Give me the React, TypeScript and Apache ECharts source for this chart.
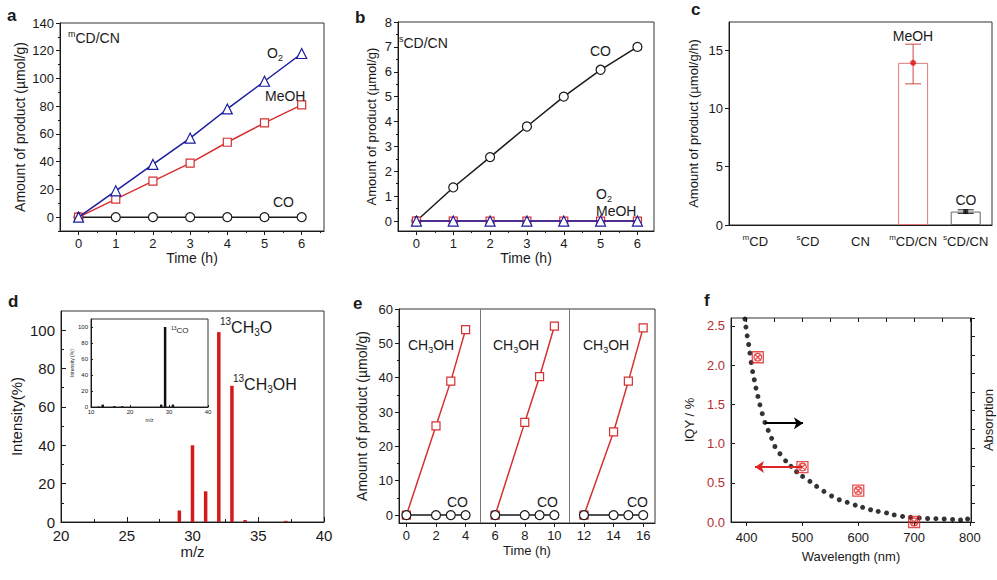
import React, { useEffect, useRef } from "react";
import * as echarts from "echarts";

const FONT = '"Liberation Sans", Arial, Helvetica, sans-serif';
const INK = "#1a1a1a";
const BLUE = "#1c1ca0";
const RED = "#d63030";

// ---------- panel a ----------
const timeH = [0, 1, 2, 3, 4, 5, 6];
const aO2 = [0, 19, 38, 57, 78, 98, 118];
const aMeOH = [0, 13, 26, 39, 54, 68, 81];
const aCO = [0, 0, 0, 0, 0, 0, 0];
const aYTicks = [0, 20, 40, 60, 80, 100, 120, 140];
const aYMinor = [-10, 10, 30, 50, 70, 90, 110, 130];
const abXMinor = [0.5, 1.5, 2.5, 3.5, 4.5, 5.5, 6.5];

// ---------- panel b ----------
const bCO = [0, 1.35, 2.57, 3.8, 5.0, 6.08, 7.0];
const bO2 = [0, 0, 0, 0, 0, 0, 0];
const bMeOH = [0, 0, 0, 0, 0, 0, 0];
const bYTicks = [0, 1, 2, 3, 4, 5, 6, 7, 8];
const bYMinor = [0.5, 1.5, 2.5, 3.5, 4.5, 5.5, 6.5, 7.5];

// ---------- panel c ----------
const cSup = ["m", "s", "", "m", "s"];
const cBase = ["CD", "CD", "CN", "CD/CN", "CD/CN"];
const cMeOH = [null, null, null, 13.9, null];
const cCO = [null, null, null, null, 1.15];
const cErrLow = [null, null, null, 12.1, 1.0];
const cErrHigh = [null, null, null, 15.5, 1.3];
const cYTicks = [0, 5, 10, 15];

// ---------- panel d ----------
const dMz = [29, 30, 31, 32, 33, 34, 37.1];
const dIntensity = [6, 40, 16, 99, 71, 1, 0.6];
const dXTicks = [20, 25, 30, 35, 40];
const dXMinor = [22.5, 27.5, 32.5, 37.5];
const dYTicks = [0, 20, 40, 60, 80, 100];
const dYMinor = [10, 30, 50, 70, 90];
const insetMz = [12, 13, 16, 18, 28, 29, 31];
const insetIntensity = [0.5, 3, 1, 1, 3, 100, 3];
const insetXTicks = [10, 20, 30, 40];

// ---------- panel e ----------
const eTime = [[0, 2, 3, 4], [6, 8, 9, 10], [12, 14, 15, 16]];
const eMeOH = [[0, 26, 39, 54], [0, 27, 40.3, 55], [0, 24.2, 39, 54.5]];
const eCO = [[0, 0, 0, 0], [0, 0, 0, 0], [0, 0, 0, 0]];
const eCycleBreaks = [5, 11];
const eXTicks = [0, 2, 4, 6, 8, 10, 12, 14, 16];
const eYTicks = [0, 10, 20, 30, 40, 50, 60];
const eYMinor = [5, 15, 25, 35, 45, 55];

// ---------- panel f ----------
const fWavelength = [397, 398.7, 401, 403.6, 405.9, 408.2, 410.7, 413.7, 416.7, 420.2, 423.8, 428, 432.8, 438.7, 444.8, 450.7, 459.7, 469.8, 479.4, 489.5, 500.3, 513.4, 525.4, 538.5, 552.2, 566, 580.2, 594.5, 607.8, 622.1, 635.7, 650.7, 664.4, 679.4, 693.7, 709.2, 724.2, 739.1, 754, 769, 783.3, 795.9];
const fAbsorption = [1.094, 1.051, 1.004, 0.957, 0.911, 0.86, 0.811, 0.767, 0.722, 0.677, 0.632, 0.584, 0.537, 0.494, 0.451, 0.407, 0.368, 0.33, 0.3, 0.271, 0.246, 0.219, 0.192, 0.165, 0.14, 0.12, 0.106, 0.091, 0.079, 0.066, 0.057, 0.049, 0.038, 0.03, 0.025, 0.022, 0.019, 0.018, 0.016, 0.014, 0.011, 0.016];
const fIqyWavelength = [420, 500, 600, 700];
const fIqy = [2.1, 0.7, 0.4, 0.0];
const fXTicks = [400, 500, 600, 700, 800];
const fXTopTicks = [400, 450, 500, 550, 600, 650, 700, 750, 800];
const fYTicks = [0, 0.5, 1.0, 1.5, 2.0, 2.5];
const fAbsTicks = [0, 0.1, 0.2, 0.3, 0.4, 0.5, 0.6, 0.7, 0.8, 0.9, 1.0, 1.1];
const fArrowIqy = [[500, 0.7], [415, 0.7]];
const fArrowAbs = [[433, 1.26], [501, 1.26]];

const zip = (xs: number[], ys: (number | null)[]) => xs.map((x, i) => [x, ys[i]]);

function richStyles(size: number, forLabel = false) {
  const c = forLabel ? { color: INK } : { fill: INK };
  return {
    n: { fontSize: size, fontFamily: FONT, lineHeight: Math.round(size * 1.3), verticalAlign: "middle", ...c },
    sup: { fontSize: Math.round(size * 0.62), fontFamily: FONT, lineHeight: Math.round(size * 0.62), verticalAlign: "top", ...c },
    sub: { fontSize: Math.round(size * 0.62), fontFamily: FONT, lineHeight: Math.round(size * 0.62), verticalAlign: "bottom", ...c },
  };
}

function txt(x: number, y: number, text: string, size: number, align = "left", extra: any = {}) {
  return {
    type: "text",
    x,
    y,
    silent: true,
    z: 100,
    style: {
      text,
      align,
      verticalAlign: "middle",
      fontFamily: FONT,
      fontSize: size,
      fill: INK,
      rich: richStyles(size),
      ...extra,
    },
  };
}

function vAxis(o: any) {
  const {
    grid, min, max, labels, ticks, position, inside = false, tickLen = 4, fontSize = 13,
    name, nameGap = 20, nameSize = 14, labelColor = INK, showLabel = true, showLine = true,
    margin = 6, formatter, isY = false, nameColor = INK,
  } = o;
  return {
    type: "value",
    gridIndex: grid,
    min,
    max,
    position,
    splitLine: { show: false },
    axisLine: { show: showLine, onZero: false, lineStyle: { color: INK, width: 1 } },
    axisTick: { show: true, inside, length: tickLen, customValues: ticks, lineStyle: { color: INK, width: 1 } },
    axisLabel: {
      show: showLabel,
      customValues: labels,
      fontSize,
      fontFamily: FONT,
      color: labelColor,
      margin,
      formatter,
      showMinLabel: true,
      showMaxLabel: true,
    },
    name,
    nameLocation: "middle",
    nameGap,
    nameRotate: isY ? 90 : 0,
    nameTextStyle: { fontSize: nameSize, fontFamily: FONT, color: nameColor },
  };
}

function buildOption() {
  const grids = [
    { left: 60, top: 23, width: 264, height: 208 },
    { left: 398, top: 22, width: 256, height: 209 },
    { left: 729, top: 22, width: 263, height: 203 },
    { left: 61, top: 311, width: 263, height: 211 },
    { left: 91, top: 319, width: 117, height: 88 },
    { left: 399, top: 309, width: 256, height: 214 },
    { left: 731, top: 318, width: 240, height: 204 },
  ].map((g) => ({ ...g, show: true, borderColor: "#333", borderWidth: 1, backgroundColor: "transparent" }));

  const xAxes: any[] = [];
  const yAxes: any[] = [];
  const addX = (a: any) => (xAxes.push(a), xAxes.length - 1);
  const addY = (a: any) => (yAxes.push(a), yAxes.length - 1);
  const series: any[] = [];

  // ---- a ----
  const xa = addX(vAxis({ grid: 0, min: -0.5, max: 6.6, labels: timeH, ticks: timeH, position: "bottom", name: "Time (h)", nameGap: 20 }));
  addX(vAxis({ grid: 0, min: -0.5, max: 6.6, ticks: abXMinor, position: "bottom", tickLen: 2, showLabel: false, showLine: false }));
  const ya = addY(vAxis({ grid: 0, min: -10, max: 140, labels: aYTicks, ticks: aYTicks, position: "left", name: "Amount of product (µmol/g)", nameGap: 33, isY: true }));
  addY(vAxis({ grid: 0, min: -10, max: 140, ticks: aYMinor, position: "left", tickLen: 2, showLabel: false, showLine: false }));
  const line = (xi: number, yi: number, data: any[], color: string, symbol: string, size: number, z = 2) => ({
    type: "line",
    xAxisIndex: xi,
    yAxisIndex: yi,
    data,
    symbol,
    symbolSize: size,
    showAllSymbol: true,
    z,
    lineStyle: { color, width: 1.5 },
    itemStyle: { color: "#fff", borderColor: color, borderWidth: 1.2 },
  });
  series.push(line(xa, ya, zip(timeH, aCO), INK, "circle", 9, 2));
  series.push(line(xa, ya, zip(timeH, aMeOH), RED, "rect", 8, 3));
  series.push(line(xa, ya, zip(timeH, aO2), BLUE, "triangle", 10, 4));

  // ---- b ----
  const xb = addX(vAxis({ grid: 1, min: -0.5, max: 6.45, labels: timeH, ticks: timeH, position: "bottom", name: "Time (h)", nameGap: 20 }));
  addX(vAxis({ grid: 1, min: -0.5, max: 6.45, ticks: abXMinor.slice(0, 6), position: "bottom", tickLen: 2, showLabel: false, showLine: false }));
  const yb = addY(vAxis({ grid: 1, min: -0.4, max: 8, labels: bYTicks, ticks: bYTicks, position: "left", name: "Amount of product (µmol/g)", nameGap: 20, nameSize: 13, isY: true }));
  addY(vAxis({ grid: 1, min: -0.4, max: 8, ticks: bYMinor, position: "left", tickLen: 2, showLabel: false, showLine: false }));
  series.push(line(xb, yb, zip(timeH, bCO), INK, "circle", 9, 2));
  series.push(line(xb, yb, zip(timeH, bMeOH), RED, "rect", 8, 3));
  series.push(line(xb, yb, zip(timeH, bO2), BLUE, "triangle", 10, 4));

  // ---- c ----
  const cCats = cBase.map((b, i) => cSup[i] + b);
  const xc = addX({
    type: "category",
    gridIndex: 2,
    data: cCats,
    position: "bottom",
    axisLine: { onZero: false, lineStyle: { color: INK } },
    axisTick: { alignWithLabel: true, length: 4, lineStyle: { color: INK } },
    axisLabel: {
      interval: 0,
      margin: 8,
      formatter: (_v: string, i: number) => (cSup[i] ? `{sup|${cSup[i]}}{n|${cBase[i]}}` : `{n|${cBase[i]}}`),
      rich: richStyles(13, true),
    },
    splitLine: { show: false },
  });
  const yc = addY(vAxis({ grid: 2, min: 0, max: 17.4, labels: cYTicks, ticks: cYTicks, position: "left", name: "Amount of product (µmol/g/h)", nameGap: 29, nameSize: 13, isY: true }));
  series.push({
    type: "bar", xAxisIndex: xc, yAxisIndex: yc, data: cMeOH, barWidth: 30, barGap: "-100%",
    itemStyle: { color: "#fff", borderColor: "#e07a7a", borderWidth: 1 },
  });
  series.push({
    type: "bar", xAxisIndex: xc, yAxisIndex: yc, data: cCO, barWidth: 30, barGap: "-100%",
    itemStyle: { color: "#fff", borderColor: "#666", borderWidth: 1 },
  });
  const errData = cErrLow.map((lo, i) => (lo == null ? null : [i, lo, cErrHigh[i]])).filter((d) => d) as number[][];
  series.push({
    type: "custom",
    xAxisIndex: xc,
    yAxisIndex: yc,
    data: errData,
    z: 5,
    renderItem: (_p: any, api: any) => {
      const x = api.value(0);
      const lo = api.coord([x, api.value(1)]);
      const hi = api.coord([x, api.value(2)]);
      const color = x === 3 ? "#d04545" : INK;
      const w = 8;
      const st = { stroke: color, lineWidth: 1 };
      return {
        type: "group",
        children: [
          { type: "line", shape: { x1: lo[0], y1: lo[1], x2: hi[0], y2: hi[1] }, style: st },
          { type: "line", shape: { x1: lo[0] - w, y1: lo[1], x2: lo[0] + w, y2: lo[1] }, style: st },
          { type: "line", shape: { x1: hi[0] - w, y1: hi[1], x2: hi[0] + w, y2: hi[1] }, style: st },
        ],
      };
    },
  });
  series.push({ type: "scatter", xAxisIndex: xc, yAxisIndex: yc, data: cMeOH, symbol: "circle", symbolSize: 6, z: 6, itemStyle: { color: "#e01010" } });
  series.push({ type: "scatter", xAxisIndex: xc, yAxisIndex: yc, data: cCO, symbol: "rect", symbolSize: 5, z: 6, itemStyle: { color: "#111" } });

  // ---- d ----
  const xd = addX(vAxis({ grid: 3, min: 20, max: 40, labels: dXTicks, ticks: dXTicks, position: "bottom", inside: true, tickLen: 5, fontSize: 15, name: "m/z", nameGap: 20, nameSize: 15 }));
  addX(vAxis({ grid: 3, min: 20, max: 40, ticks: dXMinor, position: "bottom", inside: true, tickLen: 3, showLabel: false, showLine: false }));
  const yd = addY(vAxis({ grid: 3, min: 0, max: 110, labels: dYTicks, ticks: dYTicks, position: "left", inside: true, tickLen: 5, fontSize: 15, name: "Intensity(%)", nameGap: 37, nameSize: 15, isY: true }));
  addY(vAxis({ grid: 3, min: 0, max: 110, ticks: dYMinor, position: "left", inside: true, tickLen: 3, showLabel: false, showLine: false }));
  series.push({ type: "bar", xAxisIndex: xd, yAxisIndex: yd, data: zip(dMz, dIntensity), barWidth: 3.5, itemStyle: { color: "#d41a1a" } });

  // inset
  const xi = addX(vAxis({ grid: 4, min: 10, max: 40, labels: insetXTicks, ticks: insetXTicks, position: "bottom", inside: true, tickLen: 2, fontSize: 6, margin: 2, name: "m/z", nameGap: 10, nameSize: 5 }));
  const yi = addY(vAxis({ grid: 4, min: 0, max: 110, labels: dYTicks, ticks: dYTicks, position: "left", inside: true, tickLen: 2, fontSize: 6, margin: 3, name: "Intensity (%)", nameGap: 13, nameSize: 5, isY: true }));
  series.push({ type: "bar", xAxisIndex: xi, yAxisIndex: yi, data: zip(insetMz, insetIntensity), barWidth: 2.5, itemStyle: { color: "#111" } });

  // ---- e ----
  const xe = addX(vAxis({ grid: 5, min: -0.5, max: 16.8, labels: eXTicks, ticks: eXTicks, position: "bottom", name: "Time (h)", nameGap: 21, nameSize: 13 }));
  const ye = addY(vAxis({ grid: 5, min: -2.3, max: 60, labels: eYTicks, ticks: eYTicks, position: "left", name: "Amount of product (µmol/g)", nameGap: 30, isY: true }));
  addY(vAxis({ grid: 5, min: -2.3, max: 60, ticks: eYMinor, position: "left", tickLen: 2, showLabel: false, showLine: false }));
  eTime.forEach((ts, k) => {
    const s: any = line(xe, ye, zip(ts, eMeOH[k]), RED, "rect", 8, 3);
    if (k === 0) {
      s.markLine = {
        silent: true,
        symbol: "none",
        label: { show: false },
        lineStyle: { color: "#777", type: "solid", width: 1 },
        data: eCycleBreaks.map((v) => ({ xAxis: v })),
      };
    }
    series.push(s);
  });
  eTime.forEach((ts, k) => series.push(line(xe, ye, zip(ts, eCO[k]), INK, "circle", 9, 4)));

  // ---- f ----
  const xf = addX(vAxis({ grid: 6, min: 372, max: 802, labels: fXTicks, ticks: fXTicks, position: "bottom", tickLen: 4, margin: 9, name: "Wavelength (nm)", nameGap: 28, nameSize: 13 }));
  addX(vAxis({ grid: 6, min: 372, max: 802, ticks: fXTopTicks, position: "top", inside: true, tickLen: 4, showLabel: false, showLine: false }));
  const yf = addY(vAxis({
    grid: 6, min: 0, max: 2.6, labels: fYTicks, ticks: fYTicks, position: "left", inside: true, tickLen: 4, labelColor: "#b3302e",
    formatter: (v: number) => v.toFixed(1), name: "IQY / %", nameGap: 35, nameSize: 13, isY: true,
  }));
  const yf2 = addY(vAxis({ grid: 6, min: 0, max: 1.1, ticks: fAbsTicks, position: "right", tickLen: 4, showLabel: false, name: "Absorption", nameGap: 11, nameSize: 13, isY: true }));
  series.push({
    type: "scatter", xAxisIndex: xf, yAxisIndex: yf2, data: zip(fWavelength, fAbsorption), symbolSize: 5, z: 3,
    itemStyle: { color: "#000" },
  });
  series.push({
    type: "scatter",
    xAxisIndex: xf,
    yAxisIndex: yf,
    data: zip(fIqyWavelength, fIqy),
    symbol: "path://M0,0L20,0L20,20L0,20Z M10,3A7,7 0 1 0 10.01,3Z M4,4L16,16 M16,4L4,16",
    symbolSize: 11,
    z: 4,
    itemStyle: { color: "rgba(0,0,0,0)", borderColor: "#e02424", borderWidth: 1.3 },
    markLine: {
      silent: true,
      symbol: ["none", "arrow"],
      symbolSize: 9,
      label: { show: false },
      data: [
        [{ coord: fArrowIqy[0], lineStyle: { color: "#e02424", width: 2, type: "solid" } }, { coord: fArrowIqy[1] }],
        [{ coord: fArrowAbs[0], lineStyle: { color: "#000", width: 2, type: "solid" } }, { coord: fArrowAbs[1] }],
      ],
    },
  });

  const graphic = [
    txt(7, 15, "a", 17, "left", { fontWeight: "bold" }),
    txt(355, 17, "b", 17, "left", { fontWeight: "bold" }),
    txt(691, 9, "c", 17, "left", { fontWeight: "bold" }),
    txt(8, 301, "d", 17, "left", { fontWeight: "bold" }),
    txt(353, 303, "e", 17, "left", { fontWeight: "bold" }),
    txt(704, 300, "f", 17, "left", { fontWeight: "bold" }),
    // a
    txt(68, 38, "{sup|m}{n|CD/CN}", 14),
    txt(267, 53, "{n|O}{sub|2}", 14),
    txt(265, 96, "{n|MeOH}", 14),
    txt(273, 202, "{n|CO}", 14),
    // b
    txt(399, 43, "{sup|s}{n|CD/CN}", 14),
    txt(590, 51, "{n|CO}", 14),
    txt(596, 194, "{n|O}{sub|2}", 14),
    txt(596, 211, "{n|MeOH}", 14),
    // c
    txt(913, 36, "{n|MeOH}", 14, "center"),
    txt(966, 200, "{n|CO}", 14, "center"),
    // d
    txt(220, 327, "{sup|13}{n|CH}{sub|3}{n|O}", 16),
    txt(233, 384, "{sup|13}{n|CH}{sub|3}{n|OH}", 16),
    txt(171, 330, "{sup|13}{n|CO}", 8),
    // e
    txt(408, 345, "{n|CH}{sub|3}{n|OH}", 14),
    txt(493, 345, "{n|CH}{sub|3}{n|OH}", 14),
    txt(583, 345, "{n|CH}{sub|3}{n|OH}", 14),
    txt(447, 502, "{n|CO}", 14),
    txt(537, 502, "{n|CO}", 14),
    txt(627, 502, "{n|CO}", 14),
  ];

  return {
    animation: false,
    backgroundColor: "#fff",
    textStyle: { fontFamily: FONT },
    grid: grids,
    xAxis: xAxes,
    yAxis: yAxes,
    series,
    graphic,
  };
}

export default function App() {
  const ref = useRef<HTMLDivElement>(null);
  useEffect(() => {
    if (!ref.current) return;
    const chart = echarts.init(ref.current, undefined, { renderer: "svg" });
    chart.setOption(buildOption() as any);
    return () => chart.dispose();
  }, []);
  return <div ref={ref} style={{ position: "absolute", left: 0, top: 0, width: 997, height: 580 }} />;
}
